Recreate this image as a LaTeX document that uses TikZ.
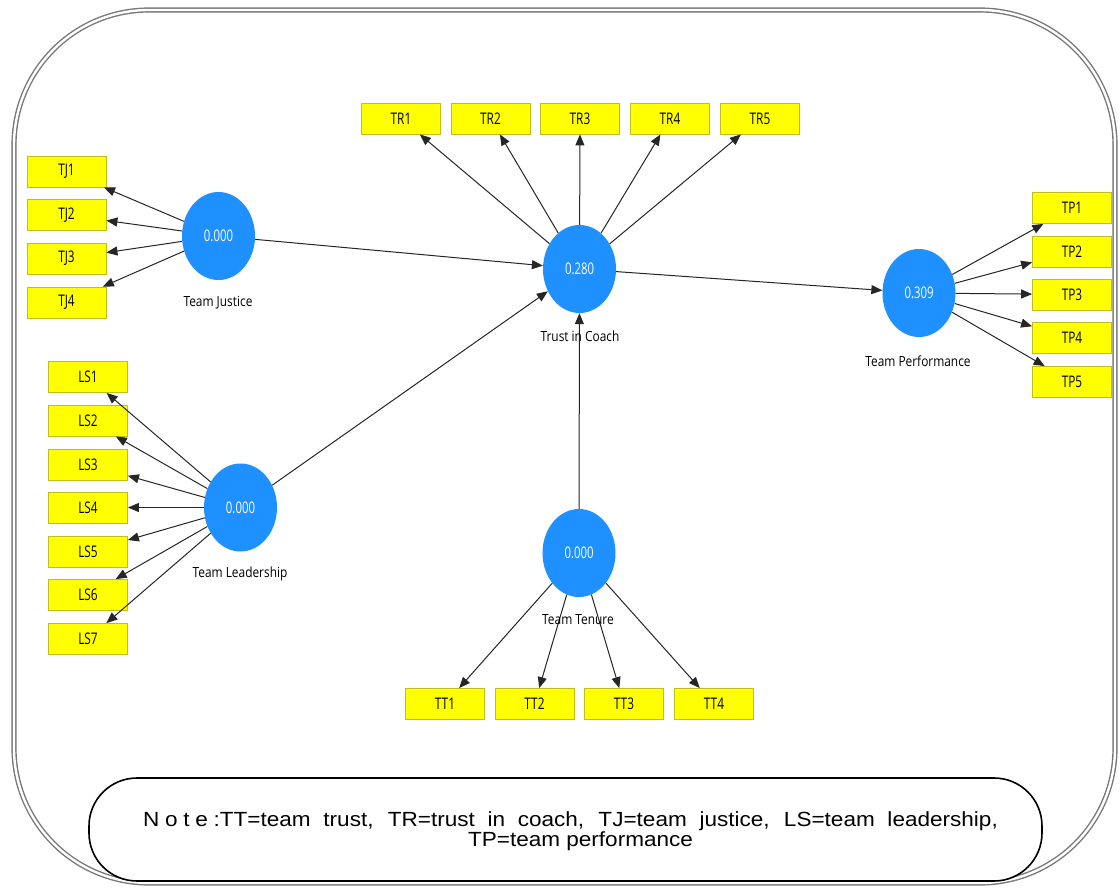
\documentclass[tikz,border=0pt]{standalone}
\usepackage{fontspec}
\setmainfont{Open Sans}
\newfontfamily\notefont{Liberation Sans}
\usetikzlibrary{shapes.geometric,arrows.meta}
\definecolor{lvblue}{RGB}{30,144,255}
\definecolor{boxyel}{RGB}{255,255,0}
\definecolor{boxedge}{RGB}{190,190,30}
\definecolor{framegray}{RGB}{120,120,120}
\newcommand{\sqzval}[1]{\scalebox{0.71}[1]{#1}}
\newcommand{\sqzbox}[1]{\scalebox{0.74}[1]{#1}}
\newcommand{\sqzlbl}[1]{\scalebox{0.85}[1]{#1}}
\newcommand{\fsp}{\kern5.2pt}
\tikzset{
  latent/.style={ellipse, fill=lvblue, minimum width=73pt, minimum height=88pt, inner sep=0pt, text=white, font=\fontsize{16}{18}\selectfont},
  indic/.style={rectangle, fill=boxyel, draw=boxedge, line width=0.8pt, minimum width=79pt, minimum height=31pt, inner sep=0pt, font=\fontsize{16}{18}\selectfont},
  lvlabel/.style={font=\fontsize{14}{16}\selectfont, inner sep=0pt},
  arr/.style={-{Triangle[length=11pt,width=9pt]}, line width=1pt, draw=black!85},
  notetext/.style={font=\notefont\fontsize{20.5}{19}\selectfont, inner sep=0pt, anchor=base}
}
\begin{document}
\begin{tikzpicture}[x=1pt,y=-1pt]
\useasboundingbox (0,0) rectangle (1120,887);
\fill[white] (0,0) rectangle (1120,887);
% outer frame
\draw[draw=framegray, line width=1.4pt, double=white, double distance=2.4pt, rounded corners=135pt]
  (14,10) rectangle (1115,883);
% note box
\draw[line width=1.6pt, fill=white, rounded corners=48pt] (89,778) rectangle (1042,881);
\node[notetext] (note1) at (570.5,826) {\scalebox{1.1}[1]{\makebox[777pt][s]{N\fsp o\fsp t\fsp e\fsp :TT=team trust, TR=trust in coach, TJ=team justice, LS=team leadership,}}};
\node[notetext] (note2) at (580.5,846) {\scalebox{1.1}[1]{TP=team performance}};

% latent variables
\node[latent] (tj) at (218.5,236) {\sqzval{0.000}};
\node[latent] (tc) at (579.5,269) {\sqzval{0.280}};
\node[latent] (tp) at (919,293) {\sqzval{0.309}};
\node[latent] (ls) at (240.5,507.5) {\sqzval{0.000}};
\node[latent] (tt) at (579,553) {\sqzval{0.000}};

% indicators TJ
\node[indic] (tj1) at (66.5,171.5) {\sqzbox{TJ1}};
\node[indic] (tj2) at (66.5,215) {\sqzbox{TJ2}};
\node[indic] (tj3) at (66.5,258.5) {\sqzbox{TJ3}};
\node[indic] (tj4) at (66.5,302.5) {\sqzbox{TJ4}};
% TR
\node[indic] (tr1) at (401,118.5) {\sqzbox{TR1}};
\node[indic] (tr2) at (490.5,118.5) {\sqzbox{TR2}};
\node[indic] (tr3) at (580,118.5) {\sqzbox{TR3}};
\node[indic] (tr4) at (670,118.5) {\sqzbox{TR4}};
\node[indic] (tr5) at (760,118.5) {\sqzbox{TR5}};
% TP
\node[indic] (tp1) at (1072,208) {\sqzbox{TP1}};
\node[indic] (tp2) at (1072,251.5) {\sqzbox{TP2}};
\node[indic] (tp3) at (1072,294.5) {\sqzbox{TP3}};
\node[indic] (tp4) at (1072,338) {\sqzbox{TP4}};
\node[indic] (tp5) at (1072,382) {\sqzbox{TP5}};
% LS
\node[indic] (ls1) at (88,377) {\sqzbox{LS1}};
\node[indic] (ls2) at (88,420.5) {\sqzbox{LS2}};
\node[indic] (ls3) at (88,464.5) {\sqzbox{LS3}};
\node[indic] (ls4) at (88,507.5) {\sqzbox{LS4}};
\node[indic] (ls5) at (88,551.5) {\sqzbox{LS5}};
\node[indic] (ls6) at (88,595) {\sqzbox{LS6}};
\node[indic] (ls7) at (88,639) {\sqzbox{LS7}};
% TT
\node[indic] (tt1) at (445,704) {\sqzbox{TT1}};
\node[indic] (tt2) at (534.5,704) {\sqzbox{TT2}};
\node[indic] (tt3) at (624,704) {\sqzbox{TT3}};
\node[indic] (tt4) at (714,704) {\sqzbox{TT4}};

% measurement arrows
\foreach \i in {1,...,4} {\draw[arr] (tj) -- (tj\i);}
\foreach \i in {1,...,5} {\draw[arr] (tc) -- (tr\i);}
\foreach \i in {1,...,5} {\draw[arr] (tp) -- (tp\i);}
\foreach \i in {1,...,7} {\draw[arr] (ls) -- (ls\i);}
\foreach \i in {1,...,4} {\draw[arr] (tt) -- (tt\i);}

% structural arrows
\draw[arr] (tj) -- (tc);
\draw[arr] (ls) -- (tc);
\draw[arr] (tt) -- (tc);
\draw[arr] (tc) -- (tp);

% labels
\node[lvlabel] (tjl) at (218,303) {\sqzlbl{Team Justice}};
\node[lvlabel] (tcl) at (580,336) {\sqzlbl{Trust in Coach}};
\node[lvlabel] (tpl) at (918,361) {\sqzlbl{Team Performance}};
\node[lvlabel] (lsl) at (240,574) {\sqzlbl{Team Leadership}};
\node[lvlabel] (ttl) at (578,620) {\sqzlbl{Team Tenure}};
\end{tikzpicture}
\end{document}
